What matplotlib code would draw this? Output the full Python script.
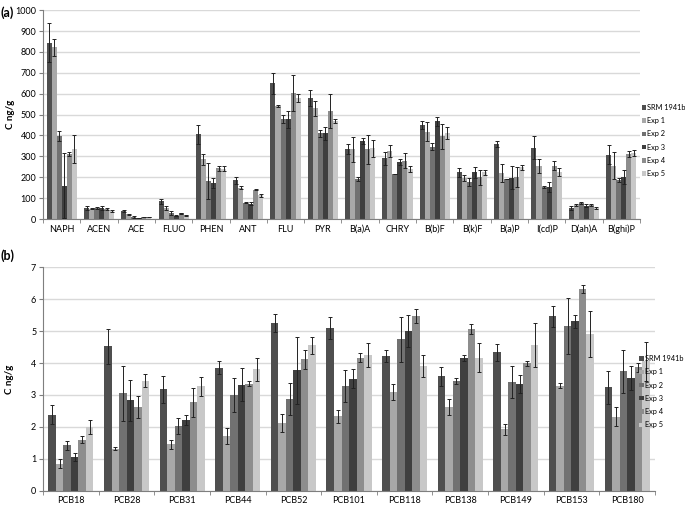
import matplotlib
matplotlib.use("Agg")
import matplotlib.pyplot as plt
import numpy as np

plt.rcParams['font.family'] = ['Lato', 'DejaVu Sans']

series = ["SRM 1941b", "Exp 1", "Exp 2", "Exp 3", "Exp 4", "Exp 5"]
colors = ["#4f4f4f", "#a8a8a8", "#717171", "#3f3f3f", "#8d8d8d", "#c8c8c8"]

pah_cats = ["NAPH", "ACEN", "ACE", "FLUO", "PHEN", "ANT", "FLU", "PYR", "B(a)A",
            "CHRY", "B(b)F", "B(k)F", "B(a)P", "I(cd)P", "D(ah)A", "B(ghi)P"]
pah_srm  = [845, 52, 37, 85, 405, 185, 650, 580, 334, 291, 451, 223, 358, 341, 53, 307]
pah_exp1 = [822, 50, 22, 52, 285, 150, 540, 530, 333, 326, 419, 196, 220, 253, 68, 256]
pah_exp2 = [398, 53, 10, 28, 183, 78, 480, 410, 191, 215, 347, 177, 193, 153, 76, 188]
pah_exp3 = [160, 52, 5, 15, 172, 73, 478, 410, 374, 272, 467, 223, 197, 153, 64, 201]
pah_exp4 = [310, 48, 10, 27, 243, 141, 603, 518, 333, 280, 396, 199, 201, 256, 65, 311]
pah_exp5 = [335, 40, 10, 18, 240, 113, 578, 470, 339, 240, 411, 223, 247, 225, 53, 315]
pah_err_srm  = [95, 8, 5, 12, 45, 15, 50, 40, 25, 30, 20, 20, 15, 55, 8, 45]
pah_err_exp1 = [40, 3, 3, 8, 25, 8, 5, 35, 62, 30, 45, 15, 45, 35, 5, 65]
pah_err_exp2 = [25, 3, 3, 10, 85, 2, 20, 18, 10, 0, 15, 20, 0, 5, 5, 10]
pah_err_exp3 = [155, 8, 1, 2, 25, 8, 40, 30, 15, 15, 20, 25, 55, 25, 8, 35]
pah_err_exp4 = [10, 3, 2, 4, 12, 3, 85, 80, 70, 35, 60, 35, 50, 20, 5, 15]
pah_err_exp5 = [65, 4, 2, 3, 12, 8, 20, 10, 40, 15, 30, 10, 10, 20, 3, 15]

pcb_cats = ["PCB18", "PCB28", "PCB31", "PCB44", "PCB52", "PCB101", "PCB118",
            "PCB138", "PCB149", "PCB153", "PCB180"]
pcb_srm  = [2.38, 4.52, 3.18, 3.85, 5.25, 5.10, 4.22, 3.59, 4.34, 5.46, 3.24]
pcb_exp1 = [0.85, 1.32, 1.45, 1.72, 2.12, 2.33, 3.08, 2.63, 1.92, 3.29, 2.32]
pcb_exp2 = [1.42, 3.05, 2.03, 3.00, 2.87, 3.29, 4.74, 3.44, 3.41, 5.17, 3.74]
pcb_exp3 = [1.05, 2.83, 2.22, 3.32, 3.78, 3.51, 5.00, 4.16, 3.33, 5.30, 3.54]
pcb_exp4 = [1.60, 2.63, 2.77, 3.35, 4.12, 4.17, 5.47, 5.06, 3.99, 6.31, 3.86]
pcb_exp5 = [2.00, 3.45, 3.27, 3.80, 4.55, 4.24, 3.91, 4.17, 4.56, 4.90, 4.05]
pcb_err_srm  = [0.30, 0.55, 0.42, 0.20, 0.27, 0.35, 0.20, 0.30, 0.27, 0.33, 0.52]
pcb_err_exp1 = [0.15, 0.04, 0.15, 0.25, 0.27, 0.20, 0.25, 0.25, 0.18, 0.07, 0.30]
pcb_err_exp2 = [0.15, 0.87, 0.25, 0.53, 0.50, 0.50, 0.70, 0.10, 0.50, 0.88, 0.67]
pcb_err_exp3 = [0.13, 0.65, 0.15, 0.52, 1.05, 0.30, 0.50, 0.10, 0.28, 0.20, 0.37]
pcb_err_exp4 = [0.10, 0.35, 0.45, 0.08, 0.30, 0.15, 0.22, 0.15, 0.07, 0.13, 0.15]
pcb_err_exp5 = [0.22, 0.20, 0.30, 0.35, 0.28, 0.38, 0.35, 0.45, 0.70, 0.72, 0.62]

pah_vals = [pah_srm, pah_exp1, pah_exp2, pah_exp3, pah_exp4, pah_exp5]
pah_errs = [pah_err_srm, pah_err_exp1, pah_err_exp2, pah_err_exp3, pah_err_exp4, pah_err_exp5]
pcb_vals = [pcb_srm, pcb_exp1, pcb_exp2, pcb_exp3, pcb_exp4, pcb_exp5]
pcb_errs = [pcb_err_srm, pcb_err_exp1, pcb_err_exp2, pcb_err_exp3, pcb_err_exp4, pcb_err_exp5]

fig = plt.figure(figsize=(6.85, 5.07), dpi=100)
ax1 = fig.add_axes([0.063, 0.568, 0.871, 0.412])
ax2 = fig.add_axes([0.063, 0.032, 0.893, 0.441])


def draw(ax, cats, vals, errs, ymax, ystep, legend_pos):
    n = len(cats)
    x = np.arange(n)
    w = 0.135
    for i, (v, e) in enumerate(zip(vals, errs)):
        pos = x + (i - 2.5) * w
        ax.bar(pos, v, width=w, color=colors[i], label=series[i], zorder=2)
        ax.errorbar(pos, v, yerr=e, fmt='none', ecolor='#222222',
                    elinewidth=0.7, capsize=1.3, capthick=0.7, zorder=3)
    ax.set_xlim(-0.5, n - 0.5)
    ax.set_ylim(0, ymax)
    ax.set_yticks(np.arange(0, ymax + ystep / 2, ystep))
    ax.yaxis.grid(True, color='#d9d9d9', linewidth=1.0, zorder=0)
    ax.set_axisbelow(True)
    for s in ['top', 'right']:
        ax.spines[s].set_visible(False)
    ax.spines['left'].set_color('#7f7f7f')
    ax.spines['bottom'].set_color('#7f7f7f')
    ax.set_xticks(x)
    ax.set_xticklabels(cats, fontsize=6.5)
    ax.tick_params(axis='x', length=0, pad=4)
    ax.set_xticks(np.arange(-0.5, n, 1.0), minor=True)
    ax.tick_params(axis='x', which='minor', length=3, color='#7f7f7f')
    ax.tick_params(axis='y', labelsize=6.5, length=3, color='#7f7f7f', pad=2)
    ax.set_ylabel("C ng/g", fontsize=7, fontweight='bold')
    ax.yaxis.set_label_coords(-0.047, 0.5)
    leg = ax.legend(loc='upper left', bbox_to_anchor=legend_pos,
                    frameon=False, fontsize=5.3, handlelength=0.55, handleheight=0.55,
                    handletextpad=0.2, labelspacing=0.85, borderaxespad=0)
    return leg


draw(ax1, pah_cats, pah_vals, pah_errs, 1000, 100, (0.998, 0.565))
draw(ax2, pcb_cats, pcb_vals, pcb_errs, 7, 1, (0.970, 0.62))

fig.text(0.001, 0.966, "(a)", fontsize=9, fontweight='bold')
fig.text(0.001, 0.488, "(b)", fontsize=9, fontweight='bold')

fig.savefig("out.png", dpi=100)
